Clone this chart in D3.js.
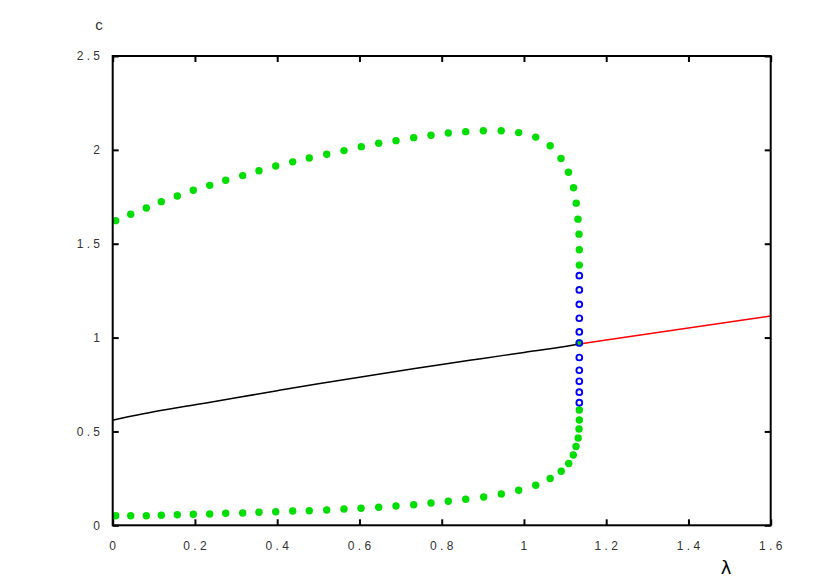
<!DOCTYPE html>
<html><head><meta charset="utf-8">
<script src="https://cdn.jsdelivr.net/npm/d3@7"></script>
<style>html,body{margin:0;padding:0;background:#fff;}</style>
</head><body>
<svg id="chart" width="822" height="581"></svg>
<script>
// ---- data ----
const xTicks = [0, 0.2, 0.4, 0.6, 0.8, 1, 1.2, 1.4, 1.6];
const xTickLabels = ["0", "0.2", "0.4", "0.6", "0.8", "1", "1.2", "1.4", "1.6"];
const yTicks = [0, 0.5, 1, 1.5, 2, 2.5];
const yTickLabels = ["0", "0.5", "1", "1.5", "2", "2.5"];

// stable steady-state branch (black)
const blackLambda = [0, 0.05, 0.1, 0.2, 0.3, 0.4, 0.5, 0.6, 0.7, 0.8, 0.9, 1.0, 1.1, 1.1346];
const blackC      = [0.56, 0.584, 0.605, 0.642, 0.679, 0.717, 0.754, 0.789, 0.823, 0.857, 0.889, 0.921, 0.953, 0.966];
// unstable steady-state branch (red)
const redLambda = [1.1346, 1.2, 1.3, 1.4, 1.5, 1.6];
const redC      = [0.966, 0.987, 1.019, 1.051, 1.083, 1.115];

// stable periodic orbits: max / min (green dots)
const greenLambda = [
  0.0073, 0.0438, 0.0817, 0.1182, 0.1571, 0.196, 0.2359, 0.2748, 0.3161, 0.3557,
  0.3964, 0.4377, 0.478, 0.5204, 0.5624, 0.6045, 0.6468, 0.6889, 0.7319, 0.774,
  0.816, 0.8584, 0.9012, 0.9447, 0.9872, 1.0286, 1.0638, 1.0901, 1.1083, 1.1205,
  1.1271, 1.1314, 1.1339, 1.1346, 1.1346,
  1.1346,
  1.1346, 1.1346, 1.1339, 1.1319, 1.1266, 1.120, 1.1088, 1.0906, 1.0638, 1.0286,
  0.9872, 0.945, 0.9021, 0.8584, 0.816, 0.774, 0.7319, 0.6889, 0.6468, 0.6038,
  0.5624, 0.5204, 0.478, 0.4377, 0.3964, 0.3557, 0.3161, 0.2748, 0.2359, 0.196,
  0.1571, 0.1182, 0.0817, 0.0438, 0.0073
];
const greenC = [
  1.623, 1.657, 1.690, 1.724, 1.754, 1.785, 1.811, 1.838, 1.863, 1.889,
  1.914, 1.936, 1.957, 1.977, 1.996, 2.017, 2.035, 2.049, 2.065, 2.078,
  2.090, 2.097, 2.102, 2.102, 2.092, 2.068, 2.022, 1.954, 1.881, 1.798,
  1.716, 1.631, 1.551, 1.468, 1.386,
  0.971,
  0.614, 0.561, 0.513, 0.465, 0.420, 0.3745, 0.329, 0.288, 0.249, 0.213,
  0.1865, 0.1668, 0.1508, 0.1385, 0.1279, 0.1188, 0.1097, 0.1028, 0.0959, 0.0906,
  0.0868, 0.0815, 0.0778, 0.0762, 0.0725, 0.0693, 0.0655, 0.0639, 0.0602, 0.0586,
  0.0565, 0.0533, 0.0511, 0.0511, 0.0511
];

// unstable periodic orbits (blue open circles)
const blueLambda = [1.1346, 1.1346, 1.1346, 1.1346, 1.1346, 1.1346, 1.1346, 1.1346, 1.1346, 1.1346, 1.1346];
const blueC      = [1.330, 1.254, 1.177, 1.103, 1.030, 0.971, 0.894, 0.826, 0.767, 0.709, 0.653];

// ---- layout ----
const svg = d3.select("#chart");
const L = 112.7, R = 770.7, T = 56, B = 525.3;
const x = d3.scaleLinear().domain([0, 1.6]).range([L, R]);
const y = d3.scaleLinear().domain([0, 2.5]).range([B, T]);

const spaced = s => s.split("").join(" ");

// lines
const line = d3.line().x(d => x(d[0])).y(d => y(d[1])).curve(d3.curveMonotoneX);
svg.append("path").datum(d3.zip(blackLambda, blackC))
  .attr("d", line).attr("fill", "none").attr("stroke", "#000").attr("stroke-width", 1.5);
svg.append("path").datum(d3.zip(redLambda, redC))
  .attr("d", line).attr("fill", "none").attr("stroke", "#ff0000").attr("stroke-width", 1.5);

// green dots
svg.append("g").selectAll("circle").data(d3.zip(greenLambda, greenC)).join("circle")
  .attr("cx", d => x(d[0])).attr("cy", d => y(d[1])).attr("r", 3.7)
  .attr("fill", "#00dd00");

// blue open circles
svg.append("g").selectAll("circle").data(d3.zip(blueLambda, blueC)).join("circle")
  .attr("cx", d => x(d[0])).attr("cy", d => y(d[1])).attr("r", 2.9)
  .attr("fill", "none").attr("stroke", "#0000ff").attr("stroke-width", 1.9);

// axes: ticks inward on all sides
const tickLen = 6;
const axB = svg.append("g").attr("transform", `translate(0,${B})`)
  .call(d3.axisBottom(x).tickValues(xTicks).tickSize(-tickLen).tickFormat(""));
const axT = svg.append("g").attr("transform", `translate(0,${T})`)
  .call(d3.axisTop(x).tickValues(xTicks).tickSize(-tickLen).tickFormat(""));
const axL = svg.append("g").attr("transform", `translate(${L},0)`)
  .call(d3.axisLeft(y).tickValues(yTicks).tickSize(-tickLen).tickFormat(""));
const axR = svg.append("g").attr("transform", `translate(${R},0)`)
  .call(d3.axisRight(y).tickValues(yTicks).tickSize(-tickLen).tickFormat(""));
[axB, axT, axL, axR].forEach(a => {
  a.select(".domain").remove();
  a.selectAll(".tick line").attr("stroke", "#000").attr("stroke-width", 2);
});

// frame
svg.append("rect").attr("x", L).attr("y", T).attr("width", R - L).attr("height", B - T)
  .attr("fill", "none").attr("stroke", "#000").attr("stroke-width", 2);

// tick labels
svg.append("g").selectAll("text").data(xTicks).join("text")
  .attr("x", d => x(d)).attr("y", 550)
  .attr("text-anchor", "middle")
  .attr("font-family", "Liberation Sans, Arial, sans-serif").attr("font-size", 12)
  .attr("fill", "#333")
  .text((d, i) => spaced(xTickLabels[i]));
svg.append("g").selectAll("text").data(yTicks).join("text")
  .attr("x", 100).attr("y", d => y(d) + 4.3)
  .attr("text-anchor", "end")
  .attr("font-family", "Liberation Sans, Arial, sans-serif").attr("font-size", 12)
  .attr("fill", "#333")
  .text((d, i) => spaced(yTickLabels[i]));

// axis titles
svg.append("text").attr("x", 99).attr("y", 30).attr("text-anchor", "middle")
  .attr("font-family", "Liberation Sans, Arial, sans-serif").attr("font-size", 15)
  .attr("fill", "#333").text("c");
svg.append("text").attr("x", 726).attr("y", 574).attr("text-anchor", "middle")
  .attr("font-family", "DejaVu Sans, sans-serif").attr("font-size", 18)
  .attr("fill", "#000").text("λ");
</script>
</body></html>
